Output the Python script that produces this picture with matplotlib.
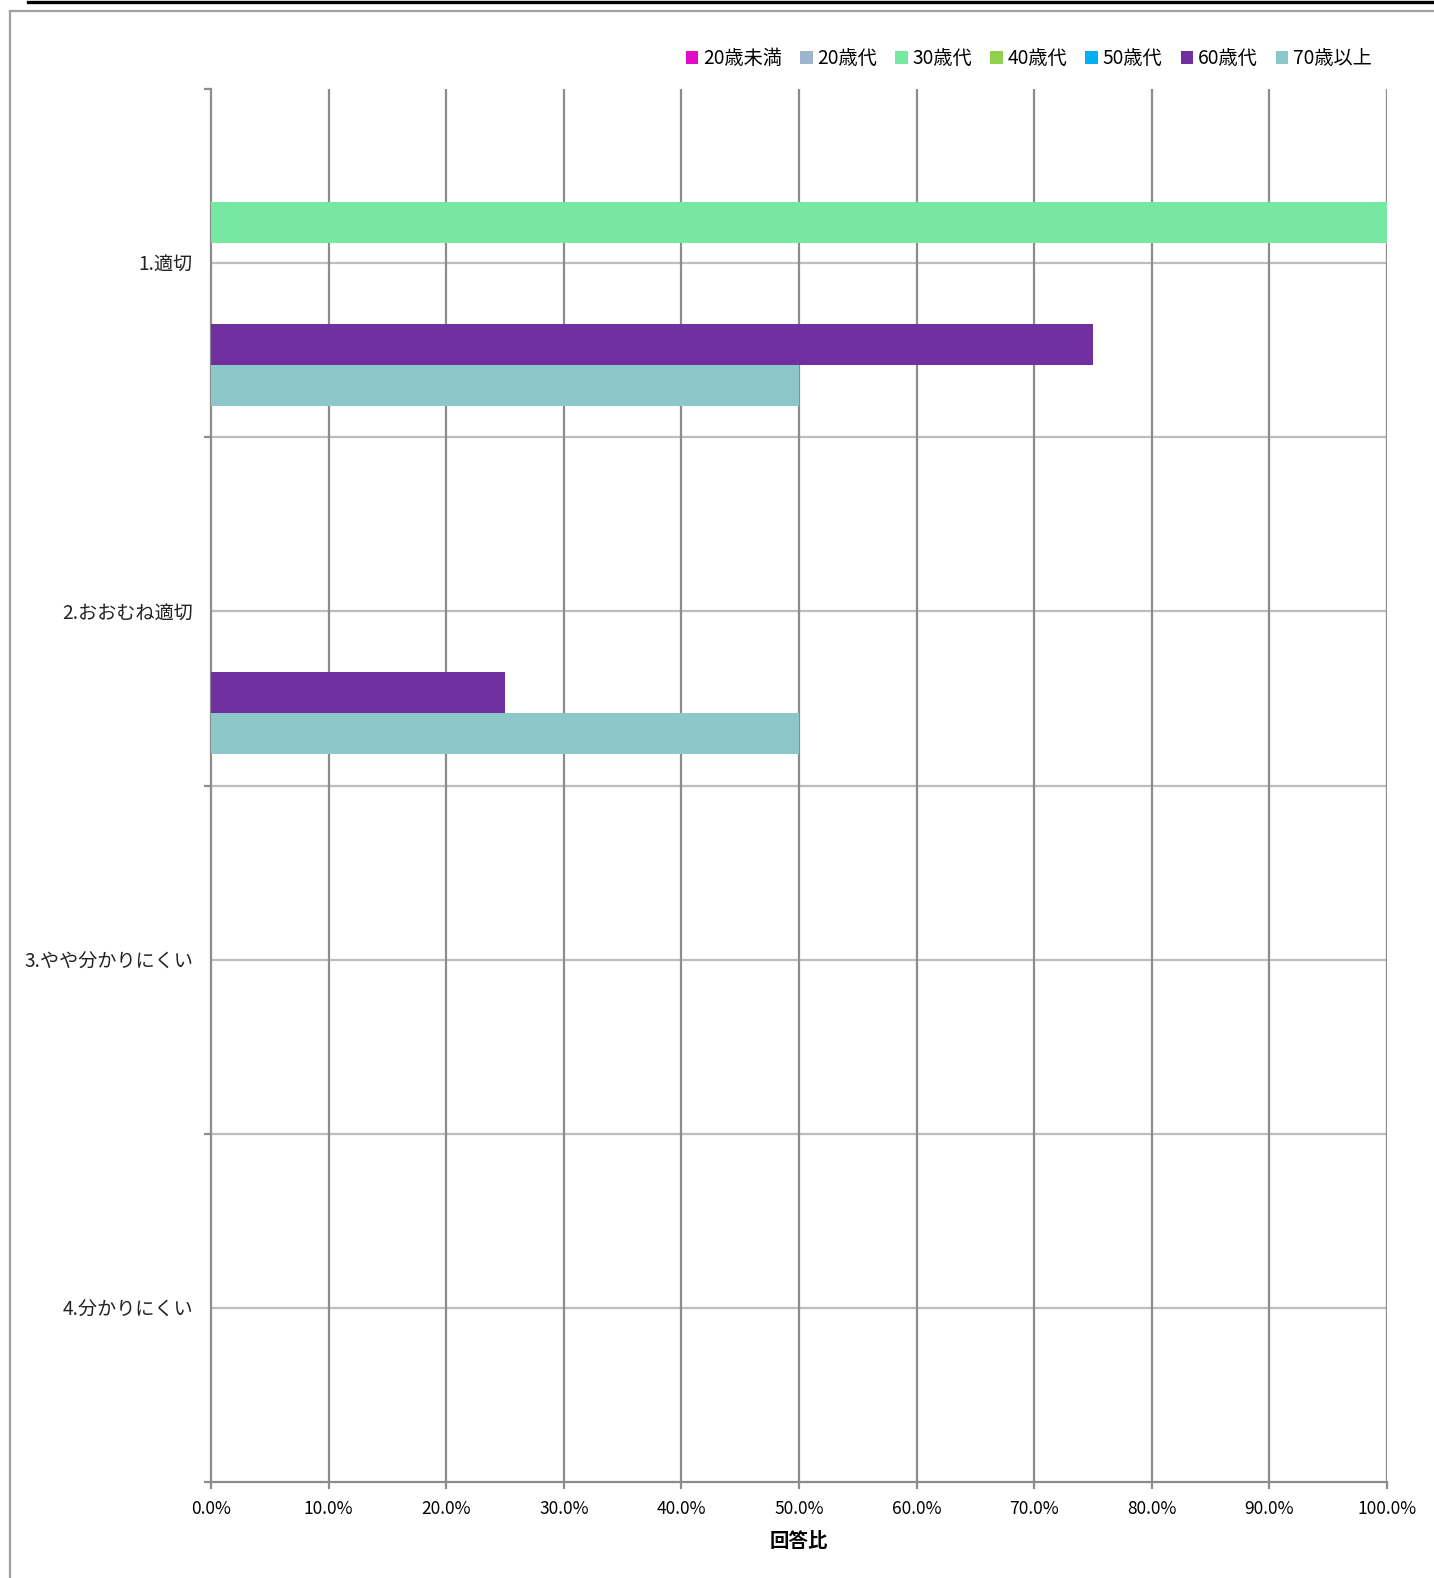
import matplotlib
matplotlib.use("Agg")
import matplotlib.pyplot as plt
from matplotlib.patches import Patch
from matplotlib.lines import Line2D
import numpy as np

plt.rcParams['font.family'] = ['Noto Sans CJK JP', 'DejaVu Sans']

categories = ["1.適切", "2.おおむね適切", "3.やや分かりにくい", "4.分かりにくい"]
series_names = ["20歳未満", "20歳代", "30歳代", "40歳代", "50歳代", "60歳代", "70歳以上"]
series_colors = ["#E30BC8", "#9DB4CC", "#77E8A2", "#92D050", "#00B0F0", "#7030A0", "#8CC7CA"]
values = {
    "20歳未満": [0, 0, 0, 0],
    "20歳代":   [0, 0, 0, 0],
    "30歳代":   [100, 0, 0, 0],
    "40歳代":   [0, 0, 0, 0],
    "50歳代":   [0, 0, 0, 0],
    "60歳代":   [75, 25, 0, 0],
    "70歳以上": [50, 50, 0, 0],
}
xticks = np.arange(0, 101, 10)
xtick_labels = [f"{v:.1f}%" for v in xticks]

W, H = 1434, 1578
fig = plt.figure(figsize=(W / 100, H / 100), dpi=100)

# frame decorations
fig.add_artist(Line2D([28 / W, 1], [1 - 1.5 / H, 1 - 1.5 / H], color="black", lw=2.4, transform=fig.transFigure))
fig.add_artist(Line2D([10 / W, 10 / W], [0, 1 - 11 / H], color="#A0A0A0", lw=1.6, transform=fig.transFigure))
fig.add_artist(Line2D([10 / W, 1], [1 - 11 / H, 1 - 11 / H], color="#A0A0A0", lw=1.6, transform=fig.transFigure))

left, right, top, bottom = 211, 1387, 89, 1482
ax = fig.add_axes([left / W, 1 - bottom / H, (right - left) / W, (bottom - top) / H])

n = len(series_names)
bh = 0.117
gap = (1 - n * bh) / 2
cat_idx = np.arange(len(categories))
for j, name in enumerate(series_names):
    ys = cat_idx + gap + bh * (j + 0.5)
    ax.barh(ys, values[name], height=bh, color=series_colors[j], zorder=3)

ax.set_xlim(0, 100)
ax.set_ylim(len(categories), 0)

# gridlines
for y in np.arange(0.5, len(categories), 0.5):
    ax.axhline(y, color="#BDBDBD", lw=1.6, zorder=1)
for x in xticks[1:]:
    ax.axvline(x, color="#8C8C8C", lw=1.6, zorder=1)

ax.set_xticks(xticks)
ax.set_xticklabels(xtick_labels, fontsize=12.5)
ax.set_yticks(cat_idx + 0.5)
ax.set_yticklabels(categories, fontsize=13.8, color="#222222")
ax.set_yticks(np.arange(0, len(categories) + 1), minor=True)
ax.tick_params(axis="y", which="major", length=0, pad=13)
ax.tick_params(axis="y", which="minor", length=5, width=1.6, color="#8C8C8C")
ax.tick_params(axis="x", which="major", length=5, width=1.6, color="#8C8C8C", pad=8)

for s in ["top", "right"]:
    ax.spines[s].set_visible(False)
for s in ["left", "bottom"]:
    ax.spines[s].set_color("#8C8C8C")
    ax.spines[s].set_linewidth(1.6)

ax.set_xlabel("回答比", fontsize=14, fontweight="bold", labelpad=10)

handles = [Patch(facecolor=c, edgecolor="none") for c in series_colors]
fig.legend(handles, series_names, loc="center right", bbox_to_anchor=(1389 / W, 1 - 58.5 / H),
           ncol=n, frameon=False, fontsize=13.8, handlelength=0.65, handleheight=0.65,
           handletextpad=0.25, columnspacing=0.95)

fig.savefig("out.png", dpi=100)
